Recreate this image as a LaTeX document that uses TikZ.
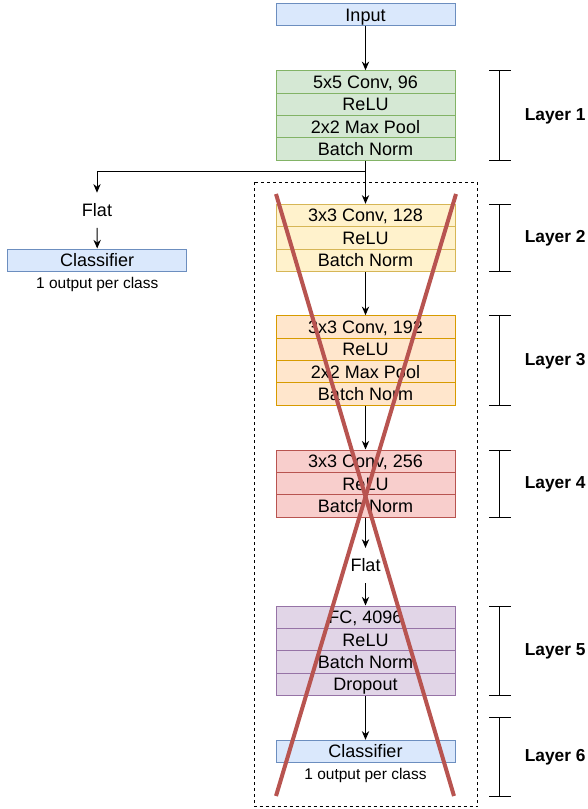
\documentclass[tikz,border=0pt]{standalone}
\usepackage{fontspec}
\setmainfont{Liberation Sans}
\usetikzlibrary{arrows.meta}
\definecolor{bluefill}{HTML}{DAE8FC}\definecolor{bluedraw}{HTML}{6C8EBF}
\definecolor{greenfill}{HTML}{D5E8D4}\definecolor{greendraw}{HTML}{82B366}
\definecolor{yellowfill}{HTML}{FFF2CC}\definecolor{yellowdraw}{HTML}{D6B656}
\definecolor{orangefill}{HTML}{FFE6CC}\definecolor{orangedraw}{HTML}{D79B00}
\definecolor{redfill}{HTML}{F8CECC}\definecolor{reddraw}{HTML}{B85450}
\definecolor{purplefill}{HTML}{E1D5E7}\definecolor{purpledraw}{HTML}{9673A6}
\tikzset{
  row/.style={draw, line width=0.75pt, minimum width=134.25pt, minimum height=16.8pt,
    inner sep=0pt, text height=9.6pt, text depth=0pt, font=\fontsize{13.5}{15}\selectfont},
  bluebox/.style={row, fill=bluefill, draw=bluedraw},
  greenbox/.style={row, fill=greenfill, draw=greendraw},
  yellowbox/.style={row, fill=yellowfill, draw=yellowdraw},
  orangebox/.style={row, fill=orangefill, draw=orangedraw},
  redbox/.style={row, fill=redfill, draw=reddraw},
  purplebox/.style={row, fill=purplefill, draw=purpledraw},
  flat/.style={inner sep=0pt, minimum height=26pt, text height=9.6pt, text depth=0pt,
    font=\fontsize{13.5}{15}\selectfont},
  note/.style={inner sep=0pt, font=\fontsize{11.6}{14}\selectfont},
  layerlabel/.style={anchor=west, inner sep=0pt, font=\fontsize{13}{15}\selectfont\bfseries},
  link/.style={->, line width=0.75pt},
  cross/.style={draw=reddraw, line width=3pt},
}
\begin{document}
\begin{tikzpicture}[x=0.75pt, y=-0.75pt, >={Stealth[length=6.5pt,width=5.5pt]}]
\useasboundingbox (0,0) rectangle (588,809);
% input
\node[bluebox] (input) at (365.5,14.7) {Input};
% layer 1
\node[greenbox] (a1) at (365.5,81.9) {5x5 Conv, 96};
\node[greenbox] (a2) at (365.5,104.3) {ReLU};
\node[greenbox] (a3) at (365.5,126.7) {2x2 Max Pool};
\node[greenbox] (a4) at (365.5,149.1) {Batch Norm};
% early exit
\node[flat] (flatL) at (97,210.3) {Flat};
\node[bluebox, minimum width=134.6pt] (clsL) at (97.25,260.2) {Classifier};
\node[note] (noteL) at (97.25,284) {1 output per class};
% layer 2
\node[yellowbox] (b1) at (365.5,215.5) {3x3 Conv, 128};
\node[yellowbox] (b2) at (365.5,237.9) {ReLU};
\node[yellowbox] (b3) at (365.5,260.3) {Batch Norm};
% layer 3
\node[orangebox] (c1) at (365.5,326.9) {3x3 Conv, 192};
\node[orangebox] (c2) at (365.5,349.3) {ReLU};
\node[orangebox] (c3) at (365.5,371.7) {2x2 Max Pool};
\node[orangebox] (c4) at (365.5,394.1) {Batch Norm};
% layer 4
\node[redbox] (d1) at (365.5,461.2) {3x3 Conv, 256};
\node[redbox] (d2) at (365.5,483.6) {ReLU};
\node[redbox] (d3) at (365.5,506) {Batch Norm};
\node[flat] (flatM) at (365.5,565.5) {Flat};
% layer 5
\node[purplebox] (e1) at (365.5,617.2) {FC, 4096};
\node[purplebox] (e2) at (365.5,639.6) {ReLU};
\node[purplebox] (e3) at (365.5,662) {Batch Norm};
\node[purplebox] (e4) at (365.5,684.4) {Dropout};
% layer 6
\node[bluebox] (cls) at (365.5,751.5) {Classifier};
\node[note] (note) at (365.5,775.3) {1 output per class};
% arrows
\draw[link] (input) -- (a1);
\draw[link] (a4) -- (b1);
\draw[link] (a4.south) -- ++(0,10.7) -| (flatL.north);
\draw[link] (flatL) -- (clsL);
\draw[link] (b3) -- (c1);
\draw[link] (c4) -- (d1);
\draw[link] (d3) -- (flatM);
\draw[link] (flatM) -- (e1);
\draw[link] (e4) -- (cls);
% brackets
\foreach \top/\bot/\name in {70.7/160.3/1, 204.3/271.5/2, 315.7/405.3/3, 450/517.2/4, 606/695.6/5, 717.7/796/6}{
  \draw[line width=0.75pt] (489,\top) -- (510.5,\top) (499.5,\top) -- (499.5,\bot) (489,\bot) -- (510.5,\bot);
  \node[layerlabel] (layer\name) at (524.5,{(\top+\bot)/2+0.5}) {Layer \name};
}
% removed part
\draw[line width=0.75pt, dash pattern=on 2.25pt off 2.25pt] (254,182.3) rectangle (477.5,806.7);
\draw[cross] (276,194) -- (454,796);
\draw[cross] (456,194) -- (276,796);
\end{tikzpicture}
\end{document}
